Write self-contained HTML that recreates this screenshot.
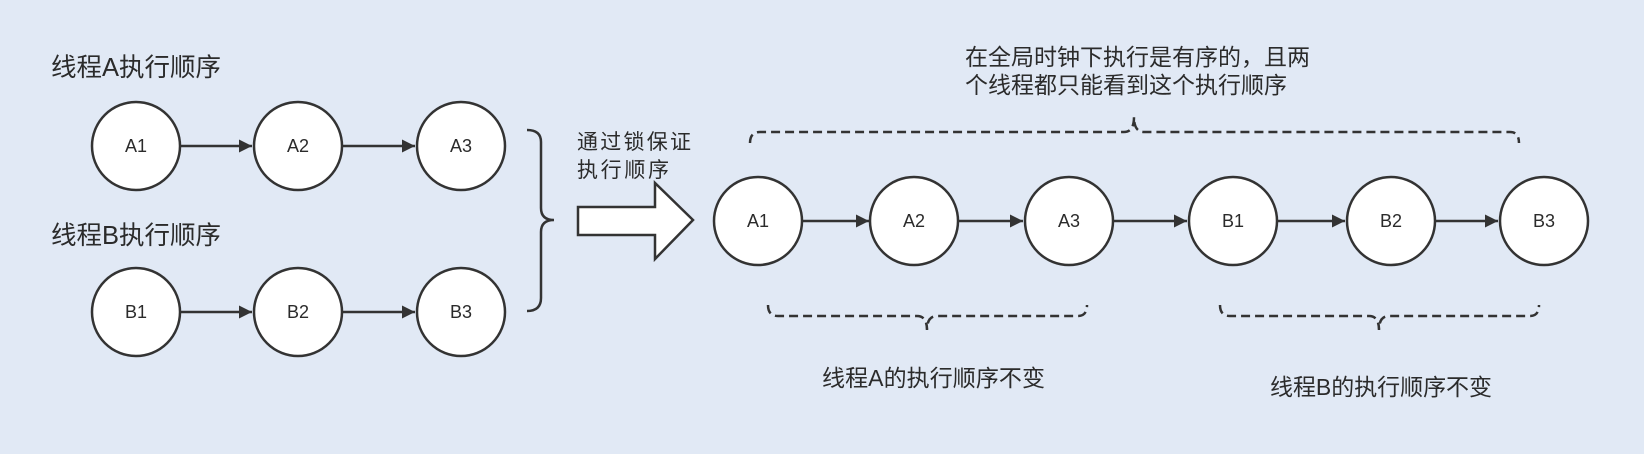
<!DOCTYPE html>
<html><head><meta charset="utf-8"><style>
html,body{margin:0;padding:0;background:#e1e9f5;}
svg{display:block}
text{font-family:"Liberation Sans","Noto Sans CJK SC",sans-serif;fill:#2b2b2b;}
</style></head><body>
<svg width="1644" height="454" viewBox="0 0 1644 454" xmlns="http://www.w3.org/2000/svg">
<defs>
<marker id="ah" viewBox="0 0 10 10" markerWidth="17" markerHeight="13" refX="10" refY="5" orient="auto" markerUnits="userSpaceOnUse"><path d="M0,0 L10,5 L0,10 Z" fill="#333"/></marker>
</defs>
<rect width="1644" height="454" fill="#e1e9f5"/>
<g font-size="23">
<text x="51" y="76" font-size="25.5">线程A执行顺序</text>
<text x="51" y="244" font-size="25.5">线程B执行顺序</text>
<text x="577" y="149" font-size="21" textLength="114">通过锁保证</text>
<text x="577" y="177" font-size="21" textLength="92">执行顺序</text>
<text x="965" y="65" textLength="345">在全局时钟下执行是有序的，且两</text>
<text x="965" y="93" textLength="322">个线程都只能看到这个执行顺序</text>
<text x="822" y="386" textLength="223">线程A的执行顺序不变</text>
<text x="1270" y="395" textLength="222">线程B的执行顺序不变</text>
</g>
<g stroke="#333" stroke-width="2.5" fill="none">
<line x1="180" y1="146" x2="252" y2="146" marker-end="url(#ah)"/>
<line x1="342" y1="146" x2="415" y2="146" marker-end="url(#ah)"/>
<line x1="180" y1="312" x2="252" y2="312" marker-end="url(#ah)"/>
<line x1="342" y1="312" x2="415" y2="312" marker-end="url(#ah)"/>
<line x1="802" y1="221" x2="869" y2="221" marker-end="url(#ah)"/>
<line x1="959" y1="221" x2="1023" y2="221" marker-end="url(#ah)"/>
<line x1="1113" y1="221" x2="1187" y2="221" marker-end="url(#ah)"/>
<line x1="1277" y1="221" x2="1345" y2="221" marker-end="url(#ah)"/>
<line x1="1435" y1="221" x2="1498" y2="221" marker-end="url(#ah)"/>
<path d="M527,130 Q541,130 541,142 L541,208 Q541,220 554,220 Q541,220 541,232 L541,298 Q541,311 527,311"/>
<path d="M578,207 L655,207 L655,183 L693,220 L655,259 L655,235 L578,235 Z" fill="#fff"/>
</g>
<g stroke="#333" stroke-width="2.5" fill="#fff">
<circle cx="136" cy="146" r="44"/><circle cx="298" cy="146" r="44"/><circle cx="461" cy="146" r="44"/>
<circle cx="136" cy="312" r="44"/><circle cx="298" cy="312" r="44"/><circle cx="461" cy="312" r="44"/>
<circle cx="758" cy="221" r="44"/><circle cx="914" cy="221" r="44"/><circle cx="1069" cy="221" r="44"/>
<circle cx="1233" cy="221" r="44"/><circle cx="1391" cy="221" r="44"/><circle cx="1544" cy="221" r="44"/>
</g>
<g stroke="#333" stroke-width="2.5" fill="none" stroke-dasharray="9,5">
<path d="M750,143 Q750,132 760,132 L1124,132 Q1134,132 1134,117 Q1134,132 1144,132 L1510,132 Q1519,132 1519,143"/>
<path d="M768,305 Q768,316 778,316 L917,316 Q927,316 927,330 Q927,316 937,316 L1078,316 Q1087,316 1087,305"/>
<path d="M1220,305 Q1220,316 1230,316 L1369,316 Q1379,316 1379,330 Q1379,316 1389,316 L1530,316 Q1539,316 1539,305"/>
</g>
<g font-size="18" text-anchor="middle">
<text x="136" y="152">A1</text><text x="298" y="152">A2</text><text x="461" y="152">A3</text>
<text x="136" y="318">B1</text><text x="298" y="318">B2</text><text x="461" y="318">B3</text>
<text x="758" y="227">A1</text><text x="914" y="227">A2</text><text x="1069" y="227">A3</text>
<text x="1233" y="227">B1</text><text x="1391" y="227">B2</text><text x="1544" y="227">B3</text>
</g>
</svg>
</body></html>
